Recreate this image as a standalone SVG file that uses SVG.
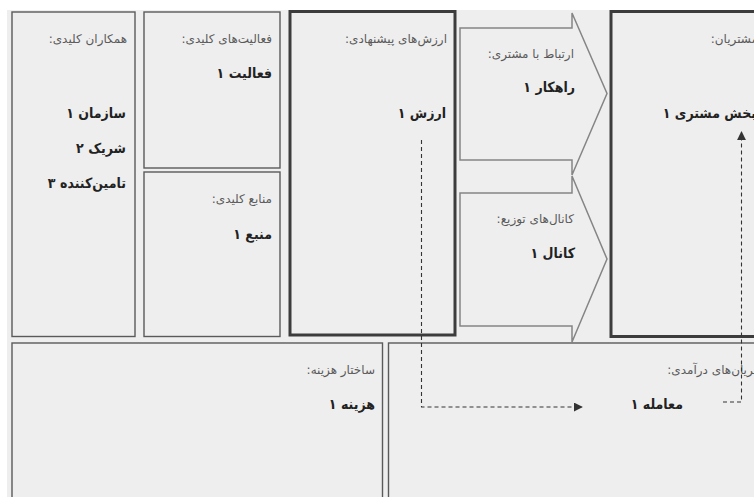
<svg xmlns="http://www.w3.org/2000/svg" width="754" height="497" viewBox="0 0 754 497">
<defs>
<style>
.bg{fill:#eeeeee}
.box{fill:#eeeeee;stroke:#5a5a5a;stroke-width:1.4}
.thick{fill:#eeeeee;stroke:#3c3c3c;stroke-width:3}
.arrow{fill:#eeeeee;stroke:#858585;stroke-width:1.5}
.t{font-family:"DejaVu Sans",sans-serif;font-size:12px;fill:#5a5a5a;direction:rtl;text-anchor:start}
.i{font-family:"DejaVu Sans Condensed","DejaVu Sans",sans-serif;font-size:14px;font-weight:bold;fill:#222;direction:rtl;text-anchor:start}
.dash{fill:none;stroke:#333;stroke-width:1.1;stroke-dasharray:4,3}
</style>
<marker id="ah" viewBox="0 0 10 10" refX="9" refY="5" markerWidth="9" markerHeight="9" markerUnits="userSpaceOnUse" orient="auto">
<path d="M0,0 L10,5 L0,10 Z" fill="#333"/>
</marker>
</defs>
<rect x="0" y="0" width="754" height="497" fill="#ffffff"/>
<rect class="bg" x="7" y="10" width="747" height="487"/>

<g id="key-partners">
<rect class="box" x="12" y="12" width="123" height="324.5"/>
<text class="t" x="127" y="43">همکاران کلیدی:</text>
<text class="i" x="126" y="118">سازمان ۱</text>
<text class="i" x="126" y="153">شریک ۲</text>
<text class="i" x="126" y="188">تامین‌کننده ۳</text>
</g>

<g id="key-activities">
<rect class="box" x="144" y="12" width="136" height="156"/>
<text class="t" x="272" y="43">فعالیت‌های کلیدی:</text>
<text class="i" x="272" y="78">فعالیت ۱</text>
</g>

<g id="key-resources">
<rect class="box" x="144" y="172" width="136" height="164.5"/>
<text class="t" x="272" y="203">منابع کلیدی:</text>
<text class="i" x="272" y="239">منبع ۱</text>
</g>

<g id="value-propositions">
<rect class="thick" x="290" y="11.5" width="165" height="323.5"/>
<text class="t" x="447" y="43">ارزش‌های پیشنهادی:</text>
<text class="i" x="446" y="118">ارزش ۱</text>
</g>

<g id="customer-relationships">
<path class="arrow" d="M460,28 L572,28 L572,13 L607,93.5 L572,175 L572,160 L460,160 Z"/>
<text class="t" x="574" y="58">ارتباط با مشتری:</text>
<text class="i" x="575" y="92">راهکار ۱</text>
</g>

<g id="channels">
<path class="arrow" d="M460,193 L572,193 L572,176 L607,259 L572,342 L572,326 L460,326 Z"/>
<text class="t" x="574" y="223">کانال‌های توزیع:</text>
<text class="i" x="575" y="258">کانال ۱</text>
</g>

<g id="customer-segments">
<rect class="thick" x="611" y="11.5" width="160" height="325"/>
<text class="t" x="758" y="43">مشتریان:</text>
<text class="i" x="756" y="118">بخش مشتری ۱</text>
</g>

<g id="cost-structure">
<rect class="box" x="12" y="343" width="370.5" height="170"/>
<text class="t" x="375" y="374">ساختار هزینه:</text>
<text class="i" x="375" y="409">هزینه ۱</text>
</g>

<g id="revenue-streams">
<rect class="box" x="388.5" y="343" width="380" height="170"/>
<text class="t" x="761" y="374">جریان‌های درآمدی:</text>
<text class="i" x="683" y="409">معامله ۱</text>
</g>

<g id="connectors">
<path class="dash" d="M421.5,140 L421.5,407 L582,407" marker-end="url(#ah)"/>
<path class="dash" d="M723,402 L741.5,402 L741.5,132" marker-end="url(#ah)"/>
</g>
</svg>
